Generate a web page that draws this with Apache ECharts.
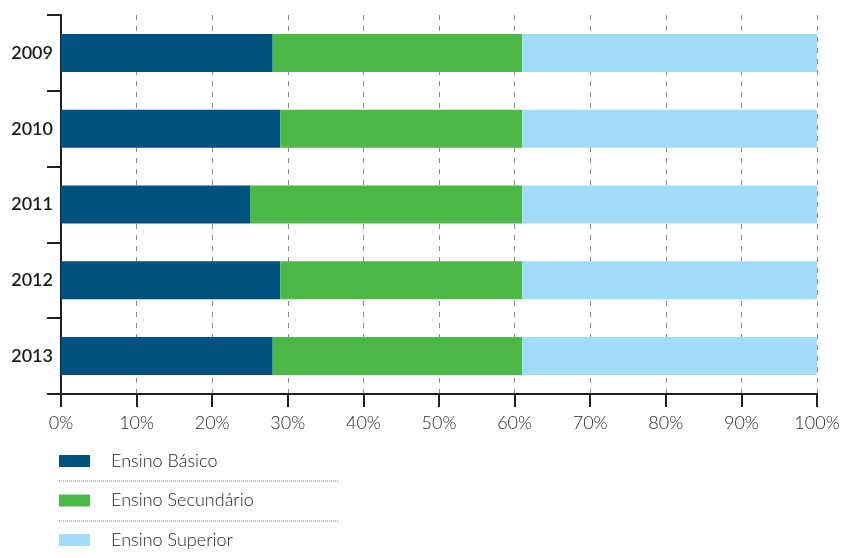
<!DOCTYPE html>
<html>
<head>
<meta charset="utf-8">
<script src="https://cdn.jsdelivr.net/npm/echarts@6/dist/echarts.min.js"></script>
<style>html,body{margin:0;padding:0;background:#fff}#c{width:843px;height:558px}</style>
</head>
<body>
<div id="c"></div>
<script>
const categories = ['2009', '2010', '2011', '2012', '2013'];
const seriesNames = ['Ensino Básico', 'Ensino Secundário', 'Ensino Superior'];
const basico = [28, 29, 25, 29, 28];
const secundario = [33, 32, 36, 32, 33];
const superior = [39, 39, 39, 39, 39];
const colors = ['#02527f', '#4cb848', '#a1ddf8'];

const chart = echarts.init(document.getElementById('c'));
const values = [basico, secundario, superior];
chart.setOption({
  animation: false,
  textStyle: { fontFamily: 'Lato' },
  grid: { left: 61, right: 26, top: 15, bottom: 164, containLabel: false },
  legend: {
    orient: 'vertical',
    left: 59,
    top: 452,
    height: 110,
    padding: 0,
    itemWidth: 31,
    itemHeight: 12,
    itemGap: 21.5,
    icon: 'rect',
    selectedMode: false,
    data: seriesNames,
    textStyle: { fontSize: 18, color: '#1e1e1e', fontFamily: 'Lato', fontWeight: 300, padding: [0, 0, 0, 16] }
  },
  xAxis: {
    type: 'value',
    min: 0,
    max: 100,
    interval: 10,
    axisLine: { show: true, lineStyle: { color: '#231f20', width: 2 } },
    axisTick: { show: true, length: 13, lineStyle: { color: '#231f20', width: 2 } },
    axisLabel: { formatter: '{value}%', fontSize: 18, color: '#262626', fontWeight: 300, margin: 20, fontFamily: 'Lato' },
    splitLine: { show: true, lineStyle: { color: '#8a8a8a', type: [5, 6], width: 1 } }
  },
  yAxis: {
    type: 'category',
    inverse: true,
    data: categories,
    axisLine: { show: true, lineStyle: { color: '#231f20', width: 2 } },
    axisTick: { show: true, length: 14, lineStyle: { color: '#231f20', width: 2 } },
    axisLabel: { fontSize: 18, color: '#1a1a1a', fontWeight: 600, margin: 8, fontFamily: 'Lato' }
  },
  graphic: [
    { type: 'line', shape: { x1: 59, y1: 481, x2: 339, y2: 481 }, style: { stroke: '#777', lineWidth: 1, lineDash: [1, 1] } },
    { type: 'line', shape: { x1: 59, y1: 521, x2: 339, y2: 521 }, style: { stroke: '#777', lineWidth: 1, lineDash: [1, 1] } }
  ],
  series: seriesNames.map((n, i) => ({
    name: n,
    type: 'bar',
    stack: 'total',
    barWidth: 38,
    itemStyle: { color: colors[i] },
    data: values[i]
  }))
});
</script>
</body>
</html>
